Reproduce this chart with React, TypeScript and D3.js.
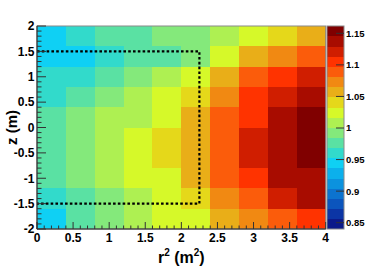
import React from "react";
import * as d3 from "d3";

// ---- data ----
const R2_EDGES = [0, 0.4, 0.8, 1.2, 1.6, 2.0, 2.4, 2.8, 3.2, 3.6, 4.0];
const Z_EDGES = [2.0, 1.6, 1.2, 0.8, 0.4, 0.0, -0.4, -0.8, -1.2, -1.6, -2.0]; // top to bottom

// ratio per cell, rows from z = 2.0 (top) down to z = -2.0 (bottom)
const ROW_0 = [0.945, 0.961, 0.977, 0.977, 0.993, 0.993, 1.009, 1.025, 1.041, 1.057];
const ROW_1 = [0.945, 0.945, 0.961, 0.977, 0.977, 0.993, 1.025, 1.057, 1.073, 1.089];
const ROW_2 = [0.961, 0.961, 0.977, 0.993, 1.009, 1.025, 1.057, 1.089, 1.105, 1.121];
const ROW_3 = [0.961, 0.977, 0.993, 1.009, 1.025, 1.041, 1.073, 1.105, 1.121, 1.137];
const ROW_4 = [0.977, 0.993, 1.009, 1.009, 1.025, 1.057, 1.089, 1.105, 1.137, 1.153];
const ROW_5 = [0.977, 0.993, 1.009, 1.025, 1.041, 1.057, 1.089, 1.121, 1.137, 1.153];
const ROW_6 = [0.977, 0.993, 1.009, 1.025, 1.041, 1.057, 1.089, 1.121, 1.137, 1.153];
const ROW_7 = [0.977, 0.993, 1.009, 1.025, 1.025, 1.057, 1.089, 1.105, 1.137, 1.137];
const ROW_8 = [0.961, 0.977, 0.993, 1.009, 1.025, 1.041, 1.073, 1.089, 1.121, 1.137];
const ROW_9 = [0.945, 0.977, 0.993, 1.009, 1.025, 1.025, 1.057, 1.073, 1.089, 1.105];
const ROWS = [ROW_0, ROW_1, ROW_2, ROW_3, ROW_4, ROW_5, ROW_6, ROW_7, ROW_8, ROW_9];

const Z_RANGE = [0.84, 1.1616];
const PALETTE = [
  "#0c1a8a", "#0c35a5", "#0c55bd", "#0c73cf", "#0c92de",
  "#0cb0ec", "#0fd0f4", "#32dacb", "#5ae1a3", "#84e97b",
  "#aef052", "#d6f929", "#e5d81a", "#e9ae18", "#f18912",
  "#fb5c0b", "#ff3300", "#d01e00", "#a80c00", "#800000",
];

// fiducial region outline (r2, z)
const CUT_R2 = 2.25;
const CUT_Z = 1.5;
const CUT_PATH: [number, number][] = [
  [0, CUT_Z], [CUT_R2, CUT_Z], [CUT_R2, -CUT_Z], [0, -CUT_Z],
];

const X_TICKS = [0, 0.5, 1, 1.5, 2, 2.5, 3, 3.5, 4];
const X_TICK_LABELS = ["0", "0.5", "1", "1.5", "2", "2.5", "3", "3.5", "4"];
const Y_TICKS = [-2, -1.5, -1, -0.5, 0, 0.5, 1, 1.5, 2];
const Y_TICK_LABELS = ["-2", "-1.5", "-1", "-0.5", "0", "0.5", "1", "1.5", "2"];
const C_TICKS = [0.85, 0.9, 0.95, 1, 1.05, 1.1, 1.15];
const C_TICK_LABELS = ["0.85", "0.9", "0.95", "1", "1.05", "1.1", "1.15"];

// ---- layout ----
const W = 374, H = 270;
const L = 37, R = 325.7, T = 26, B = 229;
const CB_L = 327, CB_R = 344;
const FONT = "'Liberation Sans', Arial, Helvetica, sans-serif";

export default function App() {
  const x = d3.scaleLinear().domain([0, 4]).range([L, R]);
  const y = d3.scaleLinear().domain([-2, 2]).range([B, T]);
  const cy = d3.scaleLinear().domain(Z_RANGE).range([B, T]);
  const color = d3.scaleQuantize<string>().domain(Z_RANGE as [number, number]).range(PALETTE);

  const cells: JSX.Element[] = [];
  ROWS.forEach((row, ri) => {
    row.forEach((v, ci) => {
      const x0 = x(R2_EDGES[ci]), x1 = x(R2_EDGES[ci + 1]);
      const y0 = y(Z_EDGES[ri]), y1 = y(Z_EDGES[ri + 1]);
      cells.push(
        <rect key={`c${ri}-${ci}`} x={x0} y={y0} width={x1 - x0 + 0.3} height={y1 - y0 + 0.3}
          fill={color(v)} />
      );
    });
  });

  const xMinor = d3.range(0, 4.0001, 0.1);
  const yMinor = d3.range(-2, 2.0001, 0.1);
  const isMajor = (v: number) => Math.abs(v * 2 - Math.round(v * 2)) < 1e-6;

  const line = d3.line<[number, number]>().x((d) => x(d[0])).y((d) => y(d[1]));

  const bands = PALETTE.map((c, i) => {
    const [a, b] = color.invertExtent(c);
    return <rect key={`b${i}`} x={CB_L} y={cy(b)} width={CB_R - CB_L} height={cy(a) - cy(b) + 0.3} fill={c} />;
  });

  return (
    <svg width={W} height={H} style={{ position: "fixed", left: 0, top: 0, background: "#fff" }}
      fontFamily={FONT} fontWeight="bold">
      <rect x={0} y={0} width={W} height={H} fill="#fff" />
      <g shapeRendering="crispEdges">{cells}</g>
      <rect x={L} y={T} width={R - L} height={B - T} fill="none" stroke="#8a8a8a" strokeWidth={1} />

      {/* dotted fiducial outline */}
      <path d={line(CUT_PATH) || ""} fill="none" stroke="#000" strokeWidth={2.2}
        strokeDasharray="2.6,2.2" />

      {/* x axis */}
      <line x1={L} x2={R} y1={B} y2={B} stroke="#222" />
      {xMinor.map((v, i) => {
        const len = isMajor(v) ? 7 : 3.5;
        return <line key={`xt${i}`} x1={x(v)} x2={x(v)} y1={B} y2={B - len} stroke="#333" strokeWidth={1} />;
      })}
      {X_TICKS.map((v, i) => (
        <text key={`xl${i}`} x={x(v)} y={242} fontSize={12} textAnchor="middle" fill="#000">
          {X_TICK_LABELS[i]}
        </text>
      ))}

      {/* y axis */}
      <line x1={L} x2={L} y1={T} y2={B} stroke="#222" />
      {yMinor.map((v, i) => {
        const len = isMajor(v) ? 9 : 4.5;
        return <line key={`yt${i}`} x1={L} x2={L + len} y1={y(v)} y2={y(v)} stroke="#333" strokeWidth={1} />;
      })}
      {Y_TICKS.map((v, i) => (
        <text key={`yl${i}`} x={34.5} y={y(v)} dy="0.36em" fontSize={12} textAnchor="end" fill="#000">
          {Y_TICK_LABELS[i]}
        </text>
      ))}

      {/* axis titles */}
      <text x={(L + R) / 2} y={263} fontSize={16} textAnchor="middle" fill="#000">
        r<tspan fontSize={10} dy={-7}>2</tspan>
        <tspan dy={7}> (m</tspan>
        <tspan fontSize={10} dy={-7}>2</tspan>
        <tspan dy={7}>)</tspan>
      </text>
      <text transform={`translate(17,${(T + B) / 2}) rotate(-90)`} fontSize={15} textAnchor="middle" fill="#000">
        z (m)
      </text>

      {/* color bar */}
      <g shapeRendering="crispEdges">{bands}</g>
      <rect x={CB_L} y={T} width={CB_R - CB_L} height={B - T} fill="none" stroke="#8a8a8a" strokeWidth={1} />
      {C_TICKS.map((v, i) => (
        <g key={`ct${i}`}>
          <line x1={CB_R} x2={CB_R - 8} y1={cy(v)} y2={cy(v)} stroke="#333" strokeWidth={1} />
          <text x={346} y={cy(v)} dy="0.36em" fontSize={9.5} fill="#000">{C_TICK_LABELS[i]}</text>
        </g>
      ))}
    </svg>
  );
}
